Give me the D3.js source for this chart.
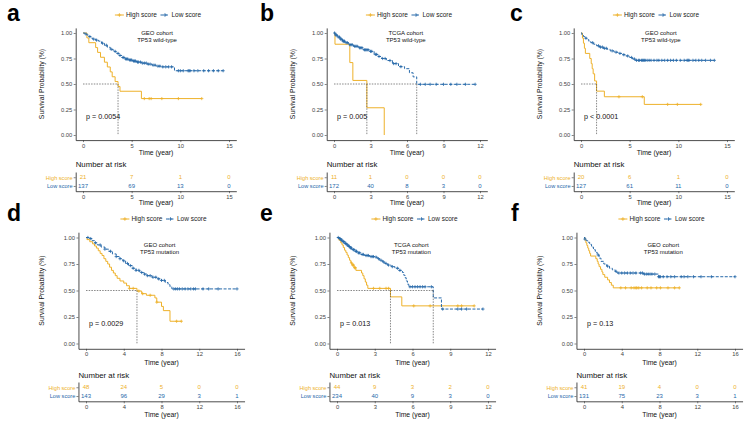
<!DOCTYPE html>
<html>
<head>
<meta charset="utf-8">
<script src="https://cdn.jsdelivr.net/npm/d3@7"></script>
<style>
  body { margin: 0; background: #fff; }
  svg { display: block; }
  text { font-family: "Liberation Sans", Arial, sans-serif; }
</style>
</head>
<body>
<svg id="chart" width="748" height="424"></svg>
<script>
// colours of the two groups
var colHigh = "#EEB12A", colLow = "#2769AA";
var groups = ["High score", "Low score"];

// ~~~~~ data: [time, survival] at each drop, censor times ~~~~~
// a : GEO, TP53 wild-type
var aHighSteps = [[0.4,0.952],[0.6,0.905],[1.3,0.857],[1.5,0.81],[1.8,0.762],[2.2,0.714],[2.5,0.667],[2.8,0.619],[3.0,0.571],[3.3,0.524],[3.6,0.476],[3.8,0.429],[6.0,0.357]];
var aHighCensor = [6.3,6.8,7.0,8.1,9.8,12.2];
var aLowSteps = [[0.2,0.99],[0.4,0.98],[0.6,0.965],[0.8,0.95],[1.0,0.94],[1.3,0.93],[1.6,0.92],[1.9,0.90],[2.2,0.88],[2.5,0.86],[2.8,0.84],[3.1,0.82],[3.4,0.80],[3.7,0.78],[4.0,0.76],[4.3,0.745],[4.7,0.735],[5.1,0.725],[5.5,0.715],[6.0,0.705],[6.6,0.695],[7.1,0.685],[7.5,0.675],[8.0,0.668],[9.4,0.63]];
var aLowCensor = [0.3,0.7,1.1,1.4,2.0,2.4,2.9,3.3,3.6,3.8,4.1,4.2,4.4,4.5,4.6,4.8,4.9,5.0,5.2,5.3,5.4,5.6,5.7,5.9,6.1,6.3,6.5,6.7,6.9,7.2,7.4,7.7,7.9,8.2,8.5,8.8,9.1,9.8,10.0,10.3,10.8,10.9,11.0,11.4,11.8,12.4,12.9,13.4,13.9,14.4];
var aRiskHigh = [21,7,1,0];
var aRiskLow = [137,69,13,0];

// b : TCGA, TP53 wild-type
var bHighSteps = [[0.08,0.89],[1.3,0.71],[1.55,0.535],[2.7,0.267],[4.13,0]];
var bHighCensor = [];
var bLowSteps = [[0.1,0.98],[0.3,0.96],[0.5,0.94],[0.7,0.92],[0.9,0.905],[1.2,0.885],[1.6,0.87],[2.0,0.855],[2.4,0.835],[2.9,0.82],[3.3,0.79],[3.6,0.77],[3.9,0.75],[4.3,0.73],[4.8,0.70],[5.3,0.67],[5.8,0.65],[6.2,0.61],[6.5,0.57],[6.8,0.497]];
var bLowCensor = [0.05,0.15,0.2,0.35,0.45,0.55,0.6,0.75,0.8,0.85,1.0,1.1,1.3,1.4,1.5,1.7,1.8,1.9,2.1,2.2,2.3,2.5,2.6,2.7,2.8,3.0,3.1,3.4,3.5,3.7,4.0,4.2,4.6,4.9,5.1,5.5,7.1,7.5,7.9,8.4,9.0,9.6,10.1,10.8,11.6];
var bRiskHigh = [11,1,0,0,0];
var bRiskLow = [172,40,8,3,0];

// c : GEO, TP53 wild-type
var cHighSteps = [[0.15,0.95],[0.25,0.90],[0.35,0.85],[0.45,0.80],[0.9,0.75],[1.05,0.70],[1.15,0.65],[1.25,0.60],[1.4,0.53],[1.6,0.43],[2.4,0.375],[6.5,0.30]];
var cHighCensor = [3.9,6.3,8.9,9.9,12.3];
var cLowSteps = [[0.1,0.98],[0.25,0.965],[0.4,0.95],[0.6,0.935],[0.8,0.92],[1.0,0.905],[1.3,0.89],[1.6,0.875],[1.9,0.862],[2.3,0.85],[2.7,0.84],[3.0,0.825],[3.4,0.812],[3.8,0.80],[4.2,0.787],[4.6,0.775],[5.0,0.76],[5.3,0.745],[5.6,0.732]];
var cLowCensor = [0.5,1.2,1.8,2.0,2.2,2.4,2.6,3.2,3.6,4.0,4.4,4.8,5.2,5.5,5.7,5.9,6.0,6.2,6.3,6.4,6.5,6.6,6.8,7.0,7.2,7.5,7.8,8.0,8.3,8.6,8.9,9.2,9.5,9.8,10.2,10.6,10.9,11.0,11.1,11.5,11.8,12.1,12.4,12.8,13.3,13.7];
var cRiskHigh = [20,6,1,0];
var cRiskLow = [127,61,11,0];

// d : GEO, TP53 mutation
var dHighSteps = [[0.1,0.98],[0.4,0.96],[0.7,0.94],[0.9,0.92],[1.1,0.90],[1.3,0.875],[1.5,0.85],[1.7,0.83],[1.9,0.80],[2.1,0.775],[2.3,0.75],[2.5,0.72],[2.7,0.69],[2.9,0.665],[3.1,0.64],[3.3,0.615],[3.6,0.59],[4.0,0.57],[4.3,0.545],[4.6,0.52],[5.4,0.495],[5.9,0.47],[6.4,0.455],[7.3,0.43],[7.5,0.39],[8.0,0.35],[8.2,0.31],[8.9,0.21]];
var dHighCensor = [4.6,5.0,5.6,6.0,6.8,7.5,9.6,10.1];
var dLowSteps = [[0.3,0.99],[0.6,0.97],[0.9,0.95],[1.2,0.93],[1.6,0.91],[2.0,0.89],[2.4,0.87],[2.8,0.845],[3.2,0.82],[3.6,0.80],[3.9,0.78],[4.2,0.755],[4.5,0.735],[4.9,0.71],[5.3,0.69],[5.7,0.67],[6.1,0.655],[6.5,0.64],[7.0,0.625],[7.5,0.61],[8.0,0.595],[8.4,0.575],[8.7,0.555],[8.9,0.535],[9.1,0.515]];
var dLowCensor = [0.2,0.5,1.0,1.5,2.0,2.6,3.2,3.6,4.0,4.4,4.7,5.0,5.3,5.6,5.9,6.2,6.5,6.8,7.1,7.4,7.7,8.0,8.3,9.3,9.5,9.7,9.9,10.2,10.5,10.8,11.1,11.4,11.6,12.4,13.0,14.0,16.0];
var dRiskHigh = [48,24,5,0,0];
var dRiskLow = [143,96,29,3,1];

// e : TCGA, TP53 mutation
var eHighSteps = [[0.15,0.975],[0.3,0.95],[0.4,0.93],[0.5,0.905],[0.6,0.88],[0.7,0.86],[0.8,0.835],[0.9,0.81],[1.0,0.785],[1.1,0.76],[1.2,0.74],[1.35,0.715],[1.5,0.69],[1.95,0.665],[2.05,0.64],[2.15,0.61],[2.25,0.58],[2.35,0.55],[2.45,0.52],[4.25,0.44],[5.15,0.355]];
var eHighCensor = [1.15,1.25,1.3,1.4,1.45,2.9,3.4,3.9,4.1,6.1,7.4,9.6,9.9,10.9];
var eLowSteps = [[0.15,0.99],[0.3,0.975],[0.45,0.96],[0.6,0.945],[0.75,0.93],[0.9,0.915],[1.05,0.90],[1.2,0.885],[1.4,0.87],[1.6,0.855],[1.9,0.84],[2.2,0.83],[2.6,0.82],[3.0,0.815],[3.2,0.80],[3.4,0.785],[3.6,0.77],[3.8,0.755],[4.0,0.74],[4.3,0.725],[4.6,0.71],[4.9,0.69],[5.2,0.67],[5.3,0.645],[5.4,0.62],[5.5,0.59],[5.6,0.56],[5.7,0.535],[7.65,0.43],[8.3,0.325]];
var eLowCensor = [0.1,0.2,0.25,0.35,0.4,0.5,0.55,0.65,0.7,0.8,0.85,0.95,1.0,1.1,1.15,1.3,1.35,1.5,1.55,1.7,1.8,2.0,2.1,2.3,2.4,2.5,2.7,2.8,2.9,3.1,3.3,3.5,3.7,3.9,4.1,4.4,4.8,5.0,5.8,6.0,6.2,6.4,6.6,6.8,7.0,7.5,8.4,9.6,9.9,10.3,11.6];
var eRiskHigh = [44,9,3,2,0];
var eRiskLow = [234,40,9,3,0];

// f : GEO, TP53 mutation
var fHighSteps = [[0.1,0.975],[0.2,0.95],[0.3,0.925],[0.4,0.90],[0.5,0.875],[0.6,0.85],[0.7,0.825],[1.25,0.80],[1.4,0.775],[1.5,0.75],[1.6,0.725],[1.75,0.70],[1.9,0.675],[2.0,0.65],[2.2,0.625],[2.5,0.60],[2.7,0.575],[2.9,0.55],[3.1,0.525]];
var fHighCensor = [3.9,4.4,5.0,5.3,5.5,5.6,5.8,6.1,6.7,7.1,7.7,8.1,8.9,9.6,10.1];
var fLowSteps = [[0.1,0.985],[0.25,0.97],[0.4,0.955],[0.6,0.935],[0.8,0.91],[1.0,0.885],[1.2,0.86],[1.4,0.835],[1.6,0.805],[1.8,0.775],[2.1,0.75],[2.4,0.73],[2.7,0.71],[3.0,0.695],[3.3,0.68],[3.5,0.665],[6.3,0.655],[7.9,0.63]];
var fLowCensor = [0.1,1.5,2.5,3.4,3.7,4.0,4.3,4.6,4.9,5.2,5.5,6.0,6.2,6.4,6.6,6.8,7.0,7.2,7.5,7.9,8.0,8.1,8.4,8.8,9.2,9.6,10.3,10.6,11.0,11.6,12.4,13.5,16.0];
var fRiskHigh = [41,19,4,0,0];
var fRiskLow = [131,75,23,3,1];

// ~~~~~ layout ~~~~~
// row geometry (pixels): top row a-c, bottom row d-f
var rows = [
  { letterY: 21, legendY: 15, y1: 33, y0: 135, x0: 83, w: 146, annY: [33, 40], pY: 116, timeY: 152.5,
    riskTitleY: 164.5, riskTop: 172, riskAxisY: 191.2, riskTimeY: 202.5 },
  { letterY: 221, legendY: 219, y1: 237.5, y0: 343.5, x0: 86, w: 151, annY: [245, 252], pY: 323, timeY: 363,
    riskTitleY: 375, riskTop: 382, riskAxisY: 401.3, riskTimeY: 414.5 }
];

var panels = [
  { id: "a", row: 0, dx: 0,   letterX: 7,  xMax: 15, xBy: 5, cohort: "GEO cohort",  tp53: "TP53 wild-type", p: "p = 0.0054",  annX: 7.6,
    hi: [aHighSteps, aHighCensor], lo: [aLowSteps, aLowCensor], risk: [aRiskHigh, aRiskLow] },
  { id: "b", row: 0, dx: 251, letterX: 9,  xMax: 12, xBy: 3, cohort: "TCGA cohort", tp53: "TP53 wild-type", p: "p = 0.005",   annX: 5.9,
    hi: [bHighSteps, bHighCensor], lo: [bLowSteps, bLowCensor], risk: [bRiskHigh, bRiskLow] },
  { id: "c", row: 0, dx: 498, letterX: 12, xMax: 15, xBy: 5, cohort: "GEO cohort",  tp53: "TP53 wild-type", p: "p < 0.0001",  annX: 8.2,
    hi: [cHighSteps, cHighCensor], lo: [cLowSteps, cLowCensor], risk: [cRiskHigh, cRiskLow] },
  { id: "d", row: 1, dx: 0,   letterX: 7,  xMax: 16, xBy: 4, cohort: "GEO cohort",  tp53: "TP53 mutation",  p: "p = 0.0029",  annX: 7.8,
    hi: [dHighSteps, dHighCensor], lo: [dLowSteps, dLowCensor], risk: [dRiskHigh, dRiskLow] },
  { id: "e", row: 1, dx: 251, letterX: 9,  xMax: 12, xBy: 3, cohort: "TCGA cohort", tp53: "TP53 mutation",  p: "p = 0.013",   annX: 5.9,
    hi: [eHighSteps, eHighCensor], lo: [eLowSteps, eLowCensor], risk: [eRiskHigh, eRiskLow] },
  { id: "f", row: 1, dx: 498, letterX: 13, xMax: 16, xBy: 4, cohort: "GEO cohort",  tp53: "TP53 mutation",  p: "p = 0.13",    annX: 8.4,
    hi: [fHighSteps, fHighCensor], lo: [fLowSteps, fLowCensor], risk: [fRiskHigh, fRiskLow] }
];

var svg = d3.select("#chart");

panels.forEach(drawPanel);

// survival value at time t (step function)
function survAt(steps, t) {
  var s = 1;
  for (var i = 0; i < steps.length; i++) {
    if (steps[i][0] <= t) s = steps[i][1]; else break;
  }
  return s;
}

// corner points of the KM step curve
function curvePoints(steps, cens) {
  var pts = [[0, 1]], s = 1;
  steps.forEach(function(d) { pts.push([d[0], s]); pts.push([d[0], d[1]]); s = d[1]; });
  var end = d3.max([steps.length ? steps[steps.length - 1][0] : 0, d3.max(cens) || 0]);
  if (end > pts[pts.length - 1][0]) pts.push([end, s]);
  return pts;
}

function medianOf(steps) {
  var f = steps.find(function(d) { return d[1] <= 0.5; });
  return f ? f[0] : null;
}

function plusPath(cx, cy, r) {
  return "M" + (cx - r) + "," + cy + "h" + (2 * r) + "M" + cx + "," + (cy - r) + "v" + (2 * r);
}

function styleAxis(sel, size) {
  sel.select(".domain").attr("stroke", "#111").attr("stroke-width", 0.75);
  sel.selectAll(".tick line").attr("stroke", "#333").attr("stroke-width", 0.6);
  sel.selectAll(".tick text").attr("font-size", size).attr("fill", "#444")
    .style("font-family", "'Liberation Sans', Arial, sans-serif");
}

function drawPanel(p) {
  var r = rows[p.row];
  var g = svg.append("g").attr("transform", "translate(" + p.dx + ",0)");

  // scales with ggplot's 5% expansion
  var padX = p.xMax * 0.05;
  var x = d3.scaleLinear().domain([-padX, p.xMax + padX]).range([r.x0 - r.w * 0.05, r.x0 + r.w * 1.05]);
  var y = d3.scaleLinear().domain([-0.05, 1.05]).range([r.y0 + (r.y0 - r.y1) * 0.05, r.y1 - (r.y0 - r.y1) * 0.05]);
  var xTicks = d3.range(0, p.xMax + 0.001, p.xBy);

  // panel letter
  g.append("text").attr("x", p.letterX).attr("y", r.letterY)
    .attr("font-size", 23).attr("font-weight", "bold").attr("fill", "#000").text(p.id);

  // legend
  var leg = g.append("g");
  var lx = 0;
  groups.forEach(function(name, i) {
    var col = i === 0 ? colHigh : colLow;
    leg.append("line").attr("x1", lx).attr("x2", lx + 9).attr("y1", 0).attr("y2", 0)
      .attr("stroke", col).attr("stroke-width", 1).attr("stroke-dasharray", i === 0 ? null : "3,1.5");
    leg.append("path").attr("d", plusPath(lx + 4.5, 0, 1.8)).attr("stroke", col).attr("stroke-width", 0.8);
    var t = leg.append("text").attr("x", lx + 11).attr("y", 0).attr("dy", "0.35em")
      .attr("font-size", 6.5).attr("fill", "#222").text(name);
    lx += 11 + t.node().getComputedTextLength() + 3.5;
  });
  var legW = lx - 3.5;
  leg.attr("transform", "translate(" + (r.x0 + r.w / 2 + 2 - legW / 2) + "," + r.legendY + ")");

  // axes
  var gx = g.append("g").attr("transform", "translate(0," + y(-0.05) + ")")
    .call(d3.axisBottom(x).tickValues(xTicks).tickSize(2).tickSizeOuter(0).tickPadding(1.5).tickFormat(d3.format("d")));
  styleAxis(gx, 5.8);
  var gy = g.append("g").attr("transform", "translate(" + x(-padX) + ",0)")
    .call(d3.axisLeft(y).tickValues([0, 0.25, 0.5, 0.75, 1]).tickSize(2).tickSizeOuter(0).tickPadding(1.5).tickFormat(d3.format(".2f")));
  styleAxis(gy, 5.8);

  g.append("text").attr("x", r.x0 + r.w / 2).attr("y", r.timeY).attr("dy", "0.35em")
    .attr("text-anchor", "middle").attr("font-size", 6.8).attr("fill", "#111").text("Time (year)");
  g.append("text").attr("transform", "translate(42," + ((r.y0 + r.y1) / 2) + ") rotate(-90)")
    .attr("dy", "0.35em").attr("text-anchor", "middle").attr("font-size", 6.8).attr("fill", "#111")
    .text("Survival Probability (%)");

  // curves
  var line = d3.line().x(function(d) { return x(d[0]); }).y(function(d) { return y(d[1]); });
  [[p.hi, colHigh, null], [p.lo, colLow, "3,1.5"]].forEach(function(c) {
    var steps = c[0][0], cens = c[0][1];
    g.append("path").datum(curvePoints(steps, cens)).attr("d", line)
      .attr("fill", "none").attr("stroke", c[1]).attr("stroke-width", 1).attr("stroke-dasharray", c[2]);
    g.append("g").selectAll("path").data(cens).enter().append("path")
      .attr("d", function(t) { return plusPath(x(t), y(survAt(steps, t)), 1.6); })
      .attr("stroke", c[1]).attr("stroke-width", 0.8);
  });

  // median survival lines
  var meds = [medianOf(p.hi[0]), medianOf(p.lo[0])].filter(function(m) { return m !== null; });
  if (meds.length) {
    var mg = g.append("g").attr("stroke", "#555").attr("stroke-width", 0.7).attr("stroke-dasharray", "1.5,1.2");
    mg.append("line").attr("x1", x(0)).attr("x2", x(d3.max(meds))).attr("y1", y(0.5)).attr("y2", y(0.5));
    meds.forEach(function(m) {
      mg.append("line").attr("x1", x(m)).attr("x2", x(m)).attr("y1", y(0.5)).attr("y2", y(0));
    });
  }

  // annotation and p value
  g.append("text").attr("x", x(p.annX)).attr("y", r.annY[0]).attr("dy", "0.35em")
    .attr("text-anchor", "middle").attr("font-size", 6).attr("fill", "#111").text(p.cohort);
  g.append("text").attr("x", x(p.annX)).attr("y", r.annY[1]).attr("dy", "0.35em")
    .attr("text-anchor", "middle").attr("font-size", 6).attr("fill", "#111").text(p.tp53);
  g.append("text").attr("x", x(0) + 3).attr("y", r.pY).attr("dy", "0.35em")
    .attr("font-size", 7.2).attr("fill", "#111").text(p.p);

  // ~~~~~ number at risk table ~~~~~
  g.append("text").attr("x", x(-padX)).attr("y", r.riskTitleY).attr("dy", "0.35em")
    .attr("font-size", 7.8).attr("fill", "#111").text("Number at risk");

  var ry = d3.scalePoint().domain(groups).range([r.riskTop, r.riskAxisY]).padding(0.6);
  var rgy = g.append("g").attr("transform", "translate(" + x(-padX) + ",0)")
    .call(d3.axisLeft(ry).tickSize(2).tickSizeOuter(0).tickPadding(1.2));
  styleAxis(rgy, 5.6);
  rgy.selectAll(".tick text").attr("fill", function(d) { return d === groups[0] ? colHigh : colLow; });

  var rgx = g.append("g").attr("transform", "translate(0," + r.riskAxisY + ")")
    .call(d3.axisBottom(x).tickValues(xTicks).tickSize(2).tickSizeOuter(0).tickPadding(1.5).tickFormat(d3.format("d")));
  styleAxis(rgx, 5.8);

  p.risk.forEach(function(vals, i) {
    g.append("g").selectAll("text").data(vals).enter().append("text")
      .attr("x", function(v, j) { return x(xTicks[j]); })
      .attr("y", ry(groups[i])).attr("dy", "0.35em")
      .attr("text-anchor", "middle").attr("font-size", 6)
      .attr("fill", i === 0 ? colHigh : colLow).text(function(v) { return v; });
  });

  g.append("text").attr("x", r.x0 + r.w / 2).attr("y", r.riskTimeY).attr("dy", "0.35em")
    .attr("text-anchor", "middle").attr("font-size", 6.8).attr("fill", "#111").text("Time (year)");
}
</script>
</body>
</html>
